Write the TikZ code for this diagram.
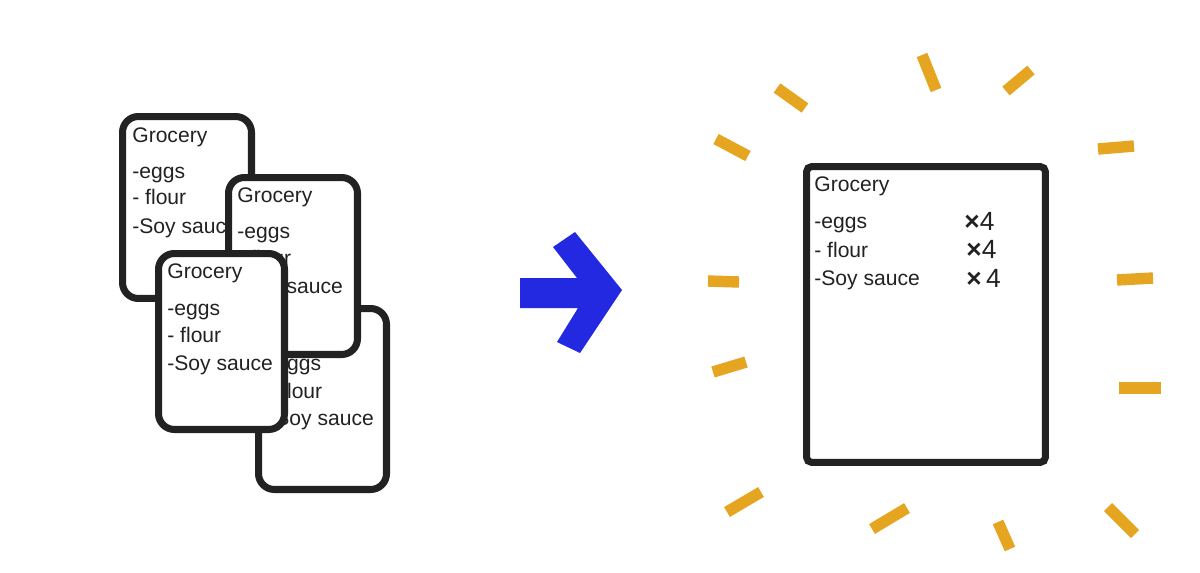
\documentclass[tikz,border=0pt]{standalone}
\usepackage{fontspec}
\setmainfont{Liberation Sans}
\definecolor{ink}{HTML}{222222}
\definecolor{arrowblue}{HTML}{2229E0}
\definecolor{ray}{HTML}{E5A521}
\begin{document}
\begin{tikzpicture}[x=0.02cm,y=-0.02cm,
  card/.style={draw=ink, line width=4pt, fill=white, rounded corners=9pt, inner sep=0pt, anchor=north west},
  bigcard/.style={card, rounded corners=3pt},
  txt/.style={anchor=base west, inner sep=0pt, font=\fontsize{12}{14}\selectfont, text=ink},
  qty/.style={txt, font=\fontsize{15}{17}\selectfont},
  raystroke/.style={draw=ray, line width=6.5pt}]
\useasboundingbox (0,0) rectangle (1200,572);
% card A (back left)
\node[card, minimum width=2.58cm, minimum height=3.64cm] (cardA) at (119,113) {};
\node[txt] (a0) at (132,142) {Grocery};
\node[txt] (a1) at (132,178) {-eggs};
\node[txt] (a2) at (132,204) {- flour};
\node[txt] (a3) at (132,233) {-Soy sauce};
% card C (back right)
\node[card, minimum width=2.56cm, minimum height=3.62cm] (cardC) at (255,305) {};
\node[txt] (c1) at (268,370) {-eggs};
\node[txt] (c2) at (268,398) {- flour};
\node[txt] (c3) at (268,425) {-Soy sauce};
% card B (middle)
\node[card, minimum width=2.58cm, minimum height=3.54cm] (cardB) at (225,174) {};
\node[txt] (b0) at (237,202) {Grocery};
\node[txt] (b1) at (237,238) {-eggs};
\node[txt] (b2) at (237,265) {- flour};
\node[txt] (b3) at (237,293) {-Soy sauce};
% card D (front)
\node[card, minimum width=2.52cm, minimum height=3.52cm] (cardD) at (155,250) {};
\node[txt] (d0) at (167,278) {Grocery};
\node[txt] (d1) at (167,315) {-eggs};
\node[txt] (d2) at (167,342) {- flour};
\node[txt] (d3) at (167,370) {-Soy sauce};
% blue arrow
\fill[arrowblue] (520,278) -- (577,278) -- (553,247) -- (575,232) -- (622,290)
  -- (580,353) -- (557,342) -- (578,308) -- (520,308) -- cycle;
% big card
\node[bigcard, minimum width=4.78cm, minimum height=5.92cm] (cardR) at (803,163) {};
\node[txt] (r0) at (814,191) {Grocery};
\node[txt] (r1) at (814,228) {-eggs};
\node[txt] (r2) at (814,257) {- flour};
\node[txt] (r3) at (814,285) {-Soy sauce};
\node[qty] (q1) at (964,230) {\textbf{×}4};
\node[qty] (q2) at (966,258) {\textbf{×}4};
\node[qty] (q3) at (966,287) {\textbf{×}\,4};
% rays
\draw[raystroke] (777,88) -- (805,108);
\draw[raystroke] (922,55) -- (936,90);
\draw[raystroke] (1031,70) -- (1006,91);
\draw[raystroke] (716,139) -- (748,156);
\draw[raystroke] (1098,149) -- (1134,146);
\draw[raystroke] (708,281) -- (739,282);
\draw[raystroke] (1117,280) -- (1153,278);
\draw[raystroke] (713,372) -- (746,362);
\draw[raystroke] (1119,388) -- (1161,388);
\draw[raystroke] (727,512) -- (761,492);
\draw[raystroke] (872,529) -- (907,508);
\draw[raystroke] (998,522) -- (1010,549);
\draw[raystroke] (1108,507) -- (1135,534);
\end{tikzpicture}
\end{document}
